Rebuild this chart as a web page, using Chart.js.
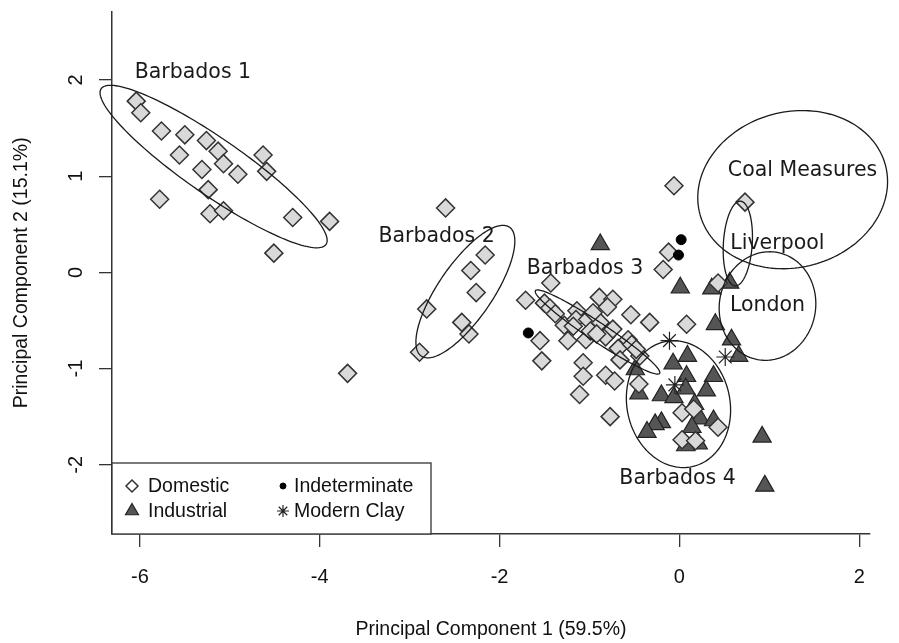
<!DOCTYPE html>
<html>
<head>
<meta charset="utf-8">
<title>PCA scores</title>
<script src="https://cdn.jsdelivr.net/npm/chart.js@4"></script>
<style>
  html, body { margin: 0; padding: 0; background: #fff; }
  #wrap { width: 899px; height: 643px; }
</style>
</head>
<body>
<div id="wrap"><canvas id="pcaChart"></canvas></div>
<script>
// PC1 / PC2 scores for each sample type
const domestic = [
  [-6.04, 1.78], [-5.99, 1.66], [-5.76, 1.47], [-5.50, 1.43], [-5.26, 1.37], [-5.13, 1.26],
  [-5.56, 1.22], [-5.07, 1.13], [-4.63, 1.22], [-4.59, 1.05], [-5.31, 1.07], [-4.91, 1.02],
  [-5.24, 0.86], [-5.78, 0.76], [-5.22, 0.61], [-5.07, 0.64], [-4.30, 0.57], [-3.89, 0.53],
  [-4.51, 0.20],
  [-2.60, 0.67], [-2.16, 0.18], [-2.32, 0.02], [-2.26, -0.21], [-2.81, -0.38], [-2.42, -0.52],
  [-2.34, -0.64], [-2.89, -0.83], [-3.69, -1.05],
  [-1.43, -0.11], [-1.71, -0.29], [-1.50, -0.32], [-1.44, -0.37], [-1.38, -0.43], [-1.28, -0.55],
  [-1.14, -0.40], [-1.15, -0.49], [-1.02, -0.49], [-0.89, -0.26], [-0.74, -0.28], [-0.80, -0.36],
  [-0.88, -0.52], [-0.54, -0.44], [-0.33, -0.52], [-1.24, -0.71], [-1.04, -0.70], [-0.82, -0.67],
  [-0.68, -0.79], [-0.57, -0.70], [-0.44, -0.87], [-0.66, -0.91], [-1.55, -0.71], [-1.53, -0.92],
  [-1.07, -0.94], [-1.07, -1.08], [-0.82, -1.07], [-0.72, -1.13], [-1.11, -1.27], [-0.77, -1.50],
  [-0.45, -1.16], [-1.18, -0.56], [-0.99, -0.61], [-0.96, -0.42], [-0.92, -0.64], [-0.74, -0.59],
  [-0.53, -0.75], [-0.48, -0.80],
  [-0.06, 0.90], [-0.12, 0.21], [-0.18, 0.03], [0.08, -0.54], [0.73, 0.73], [0.43, -0.11],
  [0.03, -1.46], [0.16, -1.42], [0.43, -1.61], [0.03, -1.74], [0.18, -1.75]
];
const industrial = [
  [-0.88, 0.29], [0.01, -0.16], [0.36, -0.17], [0.56, -0.11], [0.40, -0.54], [0.58, -0.70],
  [0.66, -0.87], [-0.49, -1.01], [0.09, -0.87], [-0.07, -0.95], [0.08, -1.08], [0.38, -1.08],
  [-0.45, -1.26], [-0.20, -1.28], [-0.06, -1.30], [0.07, -1.21], [0.30, -1.23], [0.17, -1.37],
  [0.23, -1.52], [0.38, -1.54], [0.14, -1.61], [-0.20, -1.56], [-0.27, -1.58], [-0.36, -1.66],
  [0.21, -1.78], [0.07, -1.80], [0.92, -1.71], [0.95, -2.22]
];
const indeterminate = [[-1.68, -0.63], [0.02, 0.34], [-0.01, 0.18]];
const modernClay = [[-0.11, -0.71], [-0.05, -1.17], [0.51, -0.88]];

const seriesNames = ['Domestic', 'Industrial', 'Indeterminate', 'Modern Clay'];
const xTicks = [-6, -4, -2, 0, 2];
const yTicks = [-2, -1, 0, 1, 2];

// group ellipses: centre plus two conjugate semi-axes, all in PC units
const groupNames = ['Barbados 1', 'Barbados 2', 'Barbados 3', 'Barbados 4', 'Coal Measures', 'Liverpool', 'London'];
const ellipseCentre = [[-5.18, 1.10], [-2.38, -0.20], [-0.91, -0.62], [-0.01, -1.37], [1.26, 0.86], [0.65, 0.30], [0.98, -0.35]];
const ellipseU = [[1.25, -0.81], [0.49, 0.67], [0.69, -0.43], [-0.15, 0.65], [1.03, 0.26], [0.03, 0.44], [0.09, 0.56]];
const ellipseV = [[-0.18, -0.24], [0.25, -0.16], [-0.06, -0.08], [0.56, 0.11], [0.23, -0.78], [0.16, -0.01], [0.53, -0.07]];
const groupLabelAt = [[-5.41, 2.08], [-2.70, 0.37], [-1.05, 0.04], [-0.02, -2.14], [1.37, 1.06], [1.09, 0.30], [0.98, -0.35]];

const toXY = arr => arr.map(p => ({ x: p[0], y: p[1] }));
const axisFont = { family: 'Liberation Sans', size: 20 };
const titleFont = { family: 'Liberation Sans', size: 19.5 };

const ellipsePlugin = {
  id: 'groupEllipses',
  afterDatasetsDraw(chart) {
    const { ctx, scales: { x, y } } = chart;
    ctx.save();
    ctx.strokeStyle = '#1a1a1a';
    ctx.lineWidth = 1.3;
    ellipseCentre.forEach((c, i) => {
      const u = ellipseU[i], v = ellipseV[i];
      ctx.beginPath();
      for (let k = 0; k <= 160; k++) {
        const t = k / 160 * Math.PI * 2;
        const px = x.getPixelForValue(c[0] + u[0] * Math.cos(t) + v[0] * Math.sin(t));
        const py = y.getPixelForValue(c[1] + u[1] * Math.cos(t) + v[1] * Math.sin(t));
        if (k === 0) ctx.moveTo(px, py); else ctx.lineTo(px, py);
      }
      ctx.stroke();
    });
    ctx.font = '20.5px "DejaVu Sans"';
    ctx.fillStyle = '#1a1a1a';
    ctx.textAlign = 'center';
    ctx.textBaseline = 'middle';
    groupNames.forEach((name, i) => {
      ctx.fillText(name, x.getPixelForValue(groupLabelAt[i][0]), y.getPixelForValue(groupLabelAt[i][1]));
    });
    ctx.restore();
  }
};

// boxed legend in the bottom-left corner, two columns
const boxLegend = {
  id: 'boxLegend',
  afterDraw(chart) {
    const { ctx, chartArea: area } = chart;
    const w = 319, h = 71;
    const left = area.left, top = area.bottom - h;
    ctx.save();
    ctx.fillStyle = '#fff';
    ctx.fillRect(left, top, w, h);
    ctx.strokeStyle = '#333';
    ctx.lineWidth = 1.3;
    ctx.strokeRect(left, top, w, h);

    const marks = [
      { style: 'rectRot', r: 6, fill: '#fff', stroke: '#333', bw: 1.5 },
      { style: 'triangle', r: 7.5, fill: '#555', stroke: '#222', bw: 1.2 },
      { style: 'circle', r: 3, fill: '#000', stroke: '#000', bw: 1 },
      { style: 'star', r: 6, fill: '#222', stroke: '#222', bw: 1.2 }
    ];
    ctx.font = '19.5px "Liberation Sans"';
    ctx.textBaseline = 'middle';
    ctx.textAlign = 'left';
    seriesNames.forEach((name, i) => {
      const col = Math.floor(i / 2), row = i % 2;
      const sx = left + (col ? 171 : 20);
      const tx = left + (col ? 182 : 36);
      const sy = top + (row ? 48 : 23);
      const m = marks[i];
      ctx.fillStyle = m.fill;
      ctx.strokeStyle = m.stroke;
      ctx.lineWidth = m.bw;
      Chart.helpers.drawPoint(ctx, { pointStyle: m.style, radius: m.r, rotation: 0, borderWidth: m.bw }, sx, sy);
      ctx.fillStyle = '#111';
      ctx.fillText(name, tx, sy + 1);
    });
    ctx.restore();
  }
};

new Chart(document.getElementById('pcaChart'), {
  type: 'scatter',
  data: {
    datasets: [
      { label: seriesNames[0], data: toXY(domestic), order: 2, pointStyle: 'rectRot', pointRadius: 9,
        backgroundColor: '#d9d9d9', borderColor: '#333', borderWidth: 1.5 },
      { label: seriesNames[1], data: toXY(industrial), order: 3, pointStyle: 'triangle', pointRadius: 10.5,
        backgroundColor: '#555', borderColor: '#222', borderWidth: 1.2 },
      { label: seriesNames[2], data: toXY(indeterminate), order: 1, pointStyle: 'circle', pointRadius: 5,
        backgroundColor: '#000', borderColor: '#000', borderWidth: 1 },
      { label: seriesNames[3], data: toXY(modernClay), order: 0, pointStyle: 'star', pointRadius: 9,
        backgroundColor: '#222', borderColor: '#222', borderWidth: 1.2 }
    ]
  },
  options: {
    responsive: true,
    maintainAspectRatio: false,
    animation: false,
    events: [],
    layout: { padding: { left: 0, top: 9, right: 29, bottom: 0 } },
    plugins: { legend: { display: false }, tooltip: { enabled: false } },
    scales: {
      x: {
        type: 'linear', min: -6.31, max: 2.12,
        afterBuildTicks: s => { s.ticks = xTicks.map(v => ({ value: v })); },
        afterFit: s => { s.height = 109; s.paddingLeft = 0; s.paddingRight = 0; },
        grid: { drawOnChartArea: false, drawTicks: true, tickLength: 13, color: '#333', lineWidth: 1.3 },
        border: { display: true, color: '#333', width: 1.5 },
        ticks: { color: '#111', font: axisFont, padding: 18, maxRotation: 0 },
        title: { display: true, text: 'Principal Component 1 (59.5%)', color: '#111', font: titleFont,
          padding: { top: 0, bottom: 2 } }
      },
      y: {
        type: 'linear', min: -2.72, max: 2.71,
        afterBuildTicks: s => { s.ticks = yTicks.map(v => ({ value: v })); },
        afterFit: s => { s.width = 112; s.paddingTop = 0; s.paddingBottom = 0; },
        grid: { drawOnChartArea: false, drawTicks: true, tickLength: 13, color: '#333', lineWidth: 1.3 },
        border: { display: true, color: '#333', width: 1.5 },
        ticks: { color: '#111', font: axisFont, padding: 14, minRotation: 90, maxRotation: 90, crossAlign: 'center' },
        title: { display: true, text: 'Principal Component 2 (15.1%)', color: '#111', font: titleFont,
          padding: { top: 10, bottom: 0 } }
      }
    }
  },
  plugins: [ellipsePlugin, boxLegend]
});
</script>
</body>
</html>
